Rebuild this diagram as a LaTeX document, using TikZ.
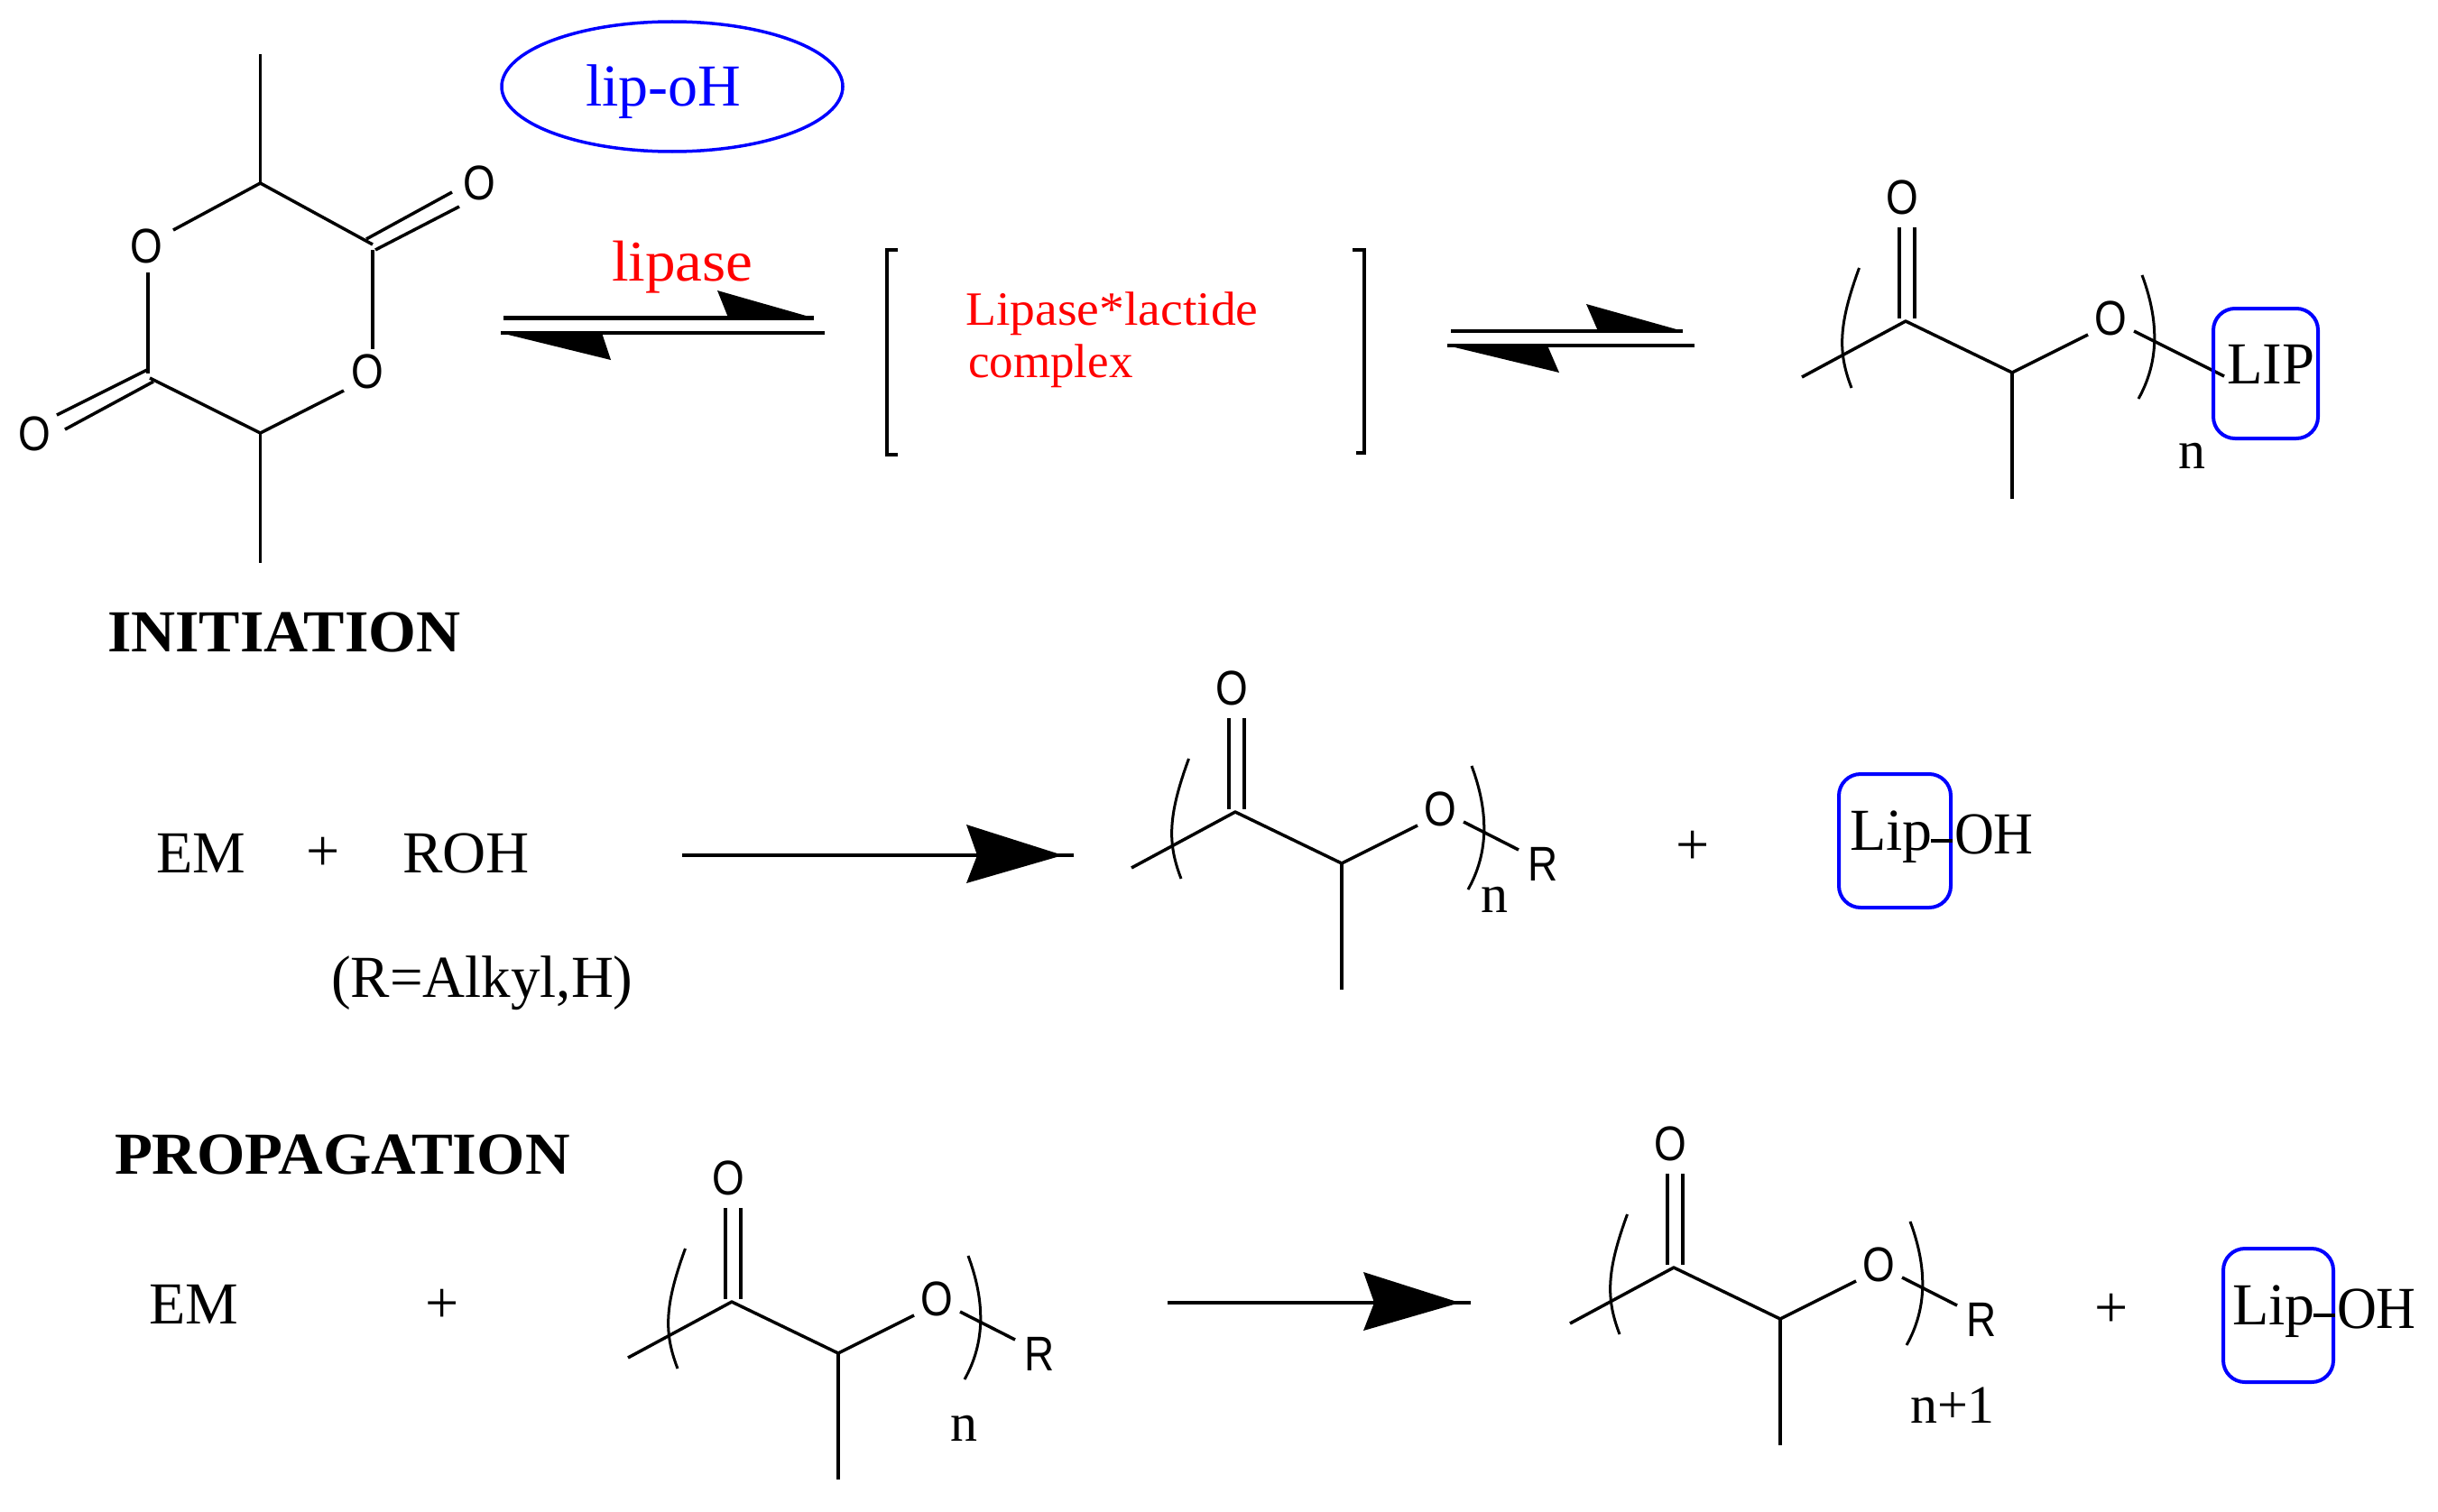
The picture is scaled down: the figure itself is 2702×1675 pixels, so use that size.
\documentclass[tikz,border=0pt]{standalone}
\usepackage{graphicx}
\usepackage{fontspec}
\usetikzlibrary{shapes.geometric}
\setmainfont{Liberation Serif}
\newfontfamily\chemsans{Liberation Sans}
\newcommand\sx[2]{\scalebox{#1}[1]{#2}}
\newcommand\atomO{{\chemsans\fontsize{27}{27}\selectfont\sx{.85}{O}}}
\newcommand\atomR{{\chemsans\fontsize{27}{27}\selectfont\sx{.85}{R}}}
\newcommand\polychain[6]{%
  \begin{scope}[shift={(#2,#3)}]
    \node[atom] (#1o) at (1365,763) {\atomO};
    \node[atom] (#1oo) at (1596,897) {\atomO};
    \coordinate (#1d1a) at (1362,796); \coordinate (#1d1b) at (1362,897);
    \coordinate (#1d2a) at (1379,796); \coordinate (#1d2b) at (1379,897);
    \coordinate (#1c) at (1369,900);
    \coordinate (#1l) at (1254,962);
    \coordinate (#1ch) at (1487,957);
    \coordinate (#1me) at (1487,1097);
    \coordinate (#1b) at (1571,915);
    \coordinate (#1s) at (1622,911);
    \coordinate (#1e) at (#4,#5);
    \draw[bond] (#1d1a) -- (#1d1b);
    \draw[bond] (#1d2a) -- (#1d2b);
    \draw[bond,line join=bevel] (#1l) -- (#1c) -- (#1ch) -- (#1b);
    \draw[bond] (#1ch) -- (#1me);
    \draw[bond] (#1s) -- (#1e);
    \coordinate (#1pa) at (1317.5,841); \coordinate (#1pb) at (1294,905);
    \coordinate (#1pc) at (1294,935);   \coordinate (#1pd) at (1309,974);
    \draw[paren] (#1pa) .. controls (#1pb) and (#1pc) .. (#1pd);
    \coordinate (#1qa) at (1631,849); \coordinate (#1qb) at (1650,900);
    \coordinate (#1qc) at (1650,945); \coordinate (#1qd) at (1627,986);
    \draw[paren] (#1qa) .. controls (#1qb) and (#1qc) .. (#1qd);
  \end{scope}%
}
\tikzset{
  bond/.style={line width=3.5*0.5pt,black},
  paren/.style={line width=3*0.5pt,black},
  atom/.style={inner sep=0pt,outer sep=0pt,text=black},
  txt/.style={inner sep=0pt,outer sep=0pt,anchor=base west,font=\fontsize{33}{33}\selectfont},
  txtc/.style={inner sep=0pt,outer sep=0pt,anchor=base,font=\fontsize{33}{33}\selectfont},
  smalln/.style={inner sep=0pt,outer sep=0pt,anchor=base,font=\fontsize{30}{30}\selectfont},
  head/.style={txt,font=\fontsize{33}{33}\selectfont\bfseries},
  redt/.style={txt,text={rgb,255:red,255;green,0;blue,0},font=\fontsize{26.5}{26.5}\selectfont},
  bluebox/.style={draw=pureblue,line width=4*0.5pt,rounded corners=12pt},
  eqline/.style={line width=4.5*0.5pt,black},
  arrline/.style={line width=4*0.5pt,black}
}
\definecolor{pureblue}{rgb}{0,0,1}
\begin{document}
\begin{tikzpicture}[x=0.5pt,y=-0.5pt]
\useasboundingbox (0,0) rectangle (2702,1675);
% lactide
\node[atom] (ol) at (162,273) {\atomO};
\node[atom] (or) at (407,412) {\atomO};
\node[atom] (otr) at (531,203) {\atomO};
\node[atom] (obl) at (38,481) {\atomO};
\coordinate (ctop) at (288.5,203);
\coordinate (cbot) at (288.5,480);
\coordinate (cr) at (413,271);
\coordinate (cl) at (166,419);
\coordinate (met) at (288.5,60);
\coordinate (meb) at (288.5,624);
\draw[bond] (met) -- (ctop);
\draw[bond] (192,255) -- (ctop) -- (cr);
\draw[bond] (413,277) -- (413,387);
\draw[bond] (381,433) -- (cbot) -- (cl);
\draw[bond] (cbot) -- (meb);
\draw[bond] (164,302) -- (164,414);
\draw[bond] (406,265) -- (501,213);
\draw[bond] (416,277) -- (509,229);
\draw[bond] (163,410) -- (63,460);
\draw[bond] (170,423) -- (72,476);
% enzyme ellipse
\node[draw=pureblue,line width=3.5*0.5pt,ellipse,minimum width=378*0.5pt,minimum height=144*0.5pt,inner sep=0pt] (ell) at (745,96) {};
\node[txt,text=pureblue] (lipoh) at (649,118) {lip-oH};
\node[redt,font=\fontsize{32}{32}\selectfont] (lipase) at (678,311) {\sx{1.05}{lipase}};
% equilibrium 1
\coordinate (e1a) at (558,352.5); \coordinate (e1b) at (902,352.5);
\coordinate (e1c) at (555,369); \coordinate (e1d) at (914,369);
\draw[eqline] (e1a) -- (e1b);
\draw[eqline] (e1c) -- (e1d);
\fill (795,322) -- (e1b) -- (807,352) -- cycle;
\fill (e1c) -- (677,399) -- (667,369) -- cycle;
% brackets
\draw[bond] (995,277) -- (983,277) -- (983,504) -- (995,504);
\draw[bond] (1499,277) -- (1512,277) -- (1512,502) -- (1503,502);
\node[redt] (cpx1) at (1070,360) {\sx{1.05}{Lipase*lactide}};
\node[redt] (cpx2) at (1073,418) {complex};
% equilibrium 2
\coordinate (e2a) at (1608,367); \coordinate (e2b) at (1865,367);
\coordinate (e2c) at (1604,383); \coordinate (e2d) at (1878,383);
\draw[eqline] (e2a) -- (e2b);
\draw[eqline] (e2c) -- (e2d);
\fill (1758,337) -- (e2b) -- (1771,367) -- cycle;
\fill (e2c) -- (1728,413) -- (1715,383) -- cycle;
% polymer 1
\polychain{pa}{743}{-544}{1722}{961}{}
\node[draw=pureblue,bluebox,minimum width=116*0.5pt,minimum height=144*0.5pt,inner sep=0pt] (boxa) at (2511,414) {};
\node[txt] (lip) at (2468,425) {\sx{.98}{LIP}};
\node[smalln] (na) at (2429,519) {n};
% headings
\node[head] (init) at (119,722) {\sx{1.03}{INITIATION}};
\node[head] (prop) at (127,1301) {\sx{1.04}{PROPAGATION}};
% row 2
\node[txt] (em1) at (173,967) {EM};
\node[txtc] (plus1) at (358,965) {+};
\node[txt] (roh) at (446,967) {\sx{1.01}{ROH}};
\node[txt] (ralk) at (367,1105) {\sx{.985}{(R=Alkyl,H)}};
\coordinate (a1s) at (756,948); \coordinate (a1e) at (1190,948);
\draw[arrline] (a1s) -- (a1e);
\fill (1071,914) -- (1178,948) -- (1071,979) -- (1083,948) -- cycle;
\polychain{pb}{0}{0}{1683}{942}{}
\node[atom] (rb) at (1710,958) {\atomR};
\node[smalln] (nb) at (1656,1011) {n};
\node[txtc] (plus2) at (1876,958) {+};
\node[draw=pureblue,bluebox,minimum width=124*0.5pt,minimum height=148*0.5pt,inner sep=0pt] (boxb) at (2100,932) {};
\node[txt] (lipb) at (2050,942) {Lip};
\node[txt] (ohb) at (2166,946) {\sx{.92}{OH}};
\coordinate (bb) at (2140,932);
\draw[bond] (bb) -- (boxb.east);
% row 3
\node[txt] (em2) at (165,1467) {EM};
\node[txtc] (plus3) at (490,1466) {+};
\polychain{pc}{-558}{543}{1683}{942}{}
\node[atom] (rc) at (1152,1501) {\atomR};
\node[smalln] (nc) at (1068,1597) {n};
\coordinate (a2s) at (1294,1444); \coordinate (a2e) at (1630,1444);
\draw[arrline] (a2s) -- (a2e);
\fill (1511,1410) -- (1618,1444) -- (1511,1475) -- (1523,1444) -- cycle;
\polychain{pd}{486}{505}{1683}{942}{}
\node[atom] (rd) at (2196,1463) {\atomR};
\node[smalln] (nd) at (2164,1577) {n+1};
\node[txtc] (plus4) at (2340,1471) {+};
\node[draw=pureblue,bluebox,minimum width=122*0.5pt,minimum height=148*0.5pt,inner sep=0pt] (boxd) at (2525,1458) {};
\node[txt] (lipd) at (2474,1468) {Lip};
\node[txt] (ohd) at (2590,1472) {\sx{.92}{OH}};
\coordinate (bd) at (2564,1458);
\draw[bond] (bd) -- (boxd.east);
\end{tikzpicture}
\end{document}
